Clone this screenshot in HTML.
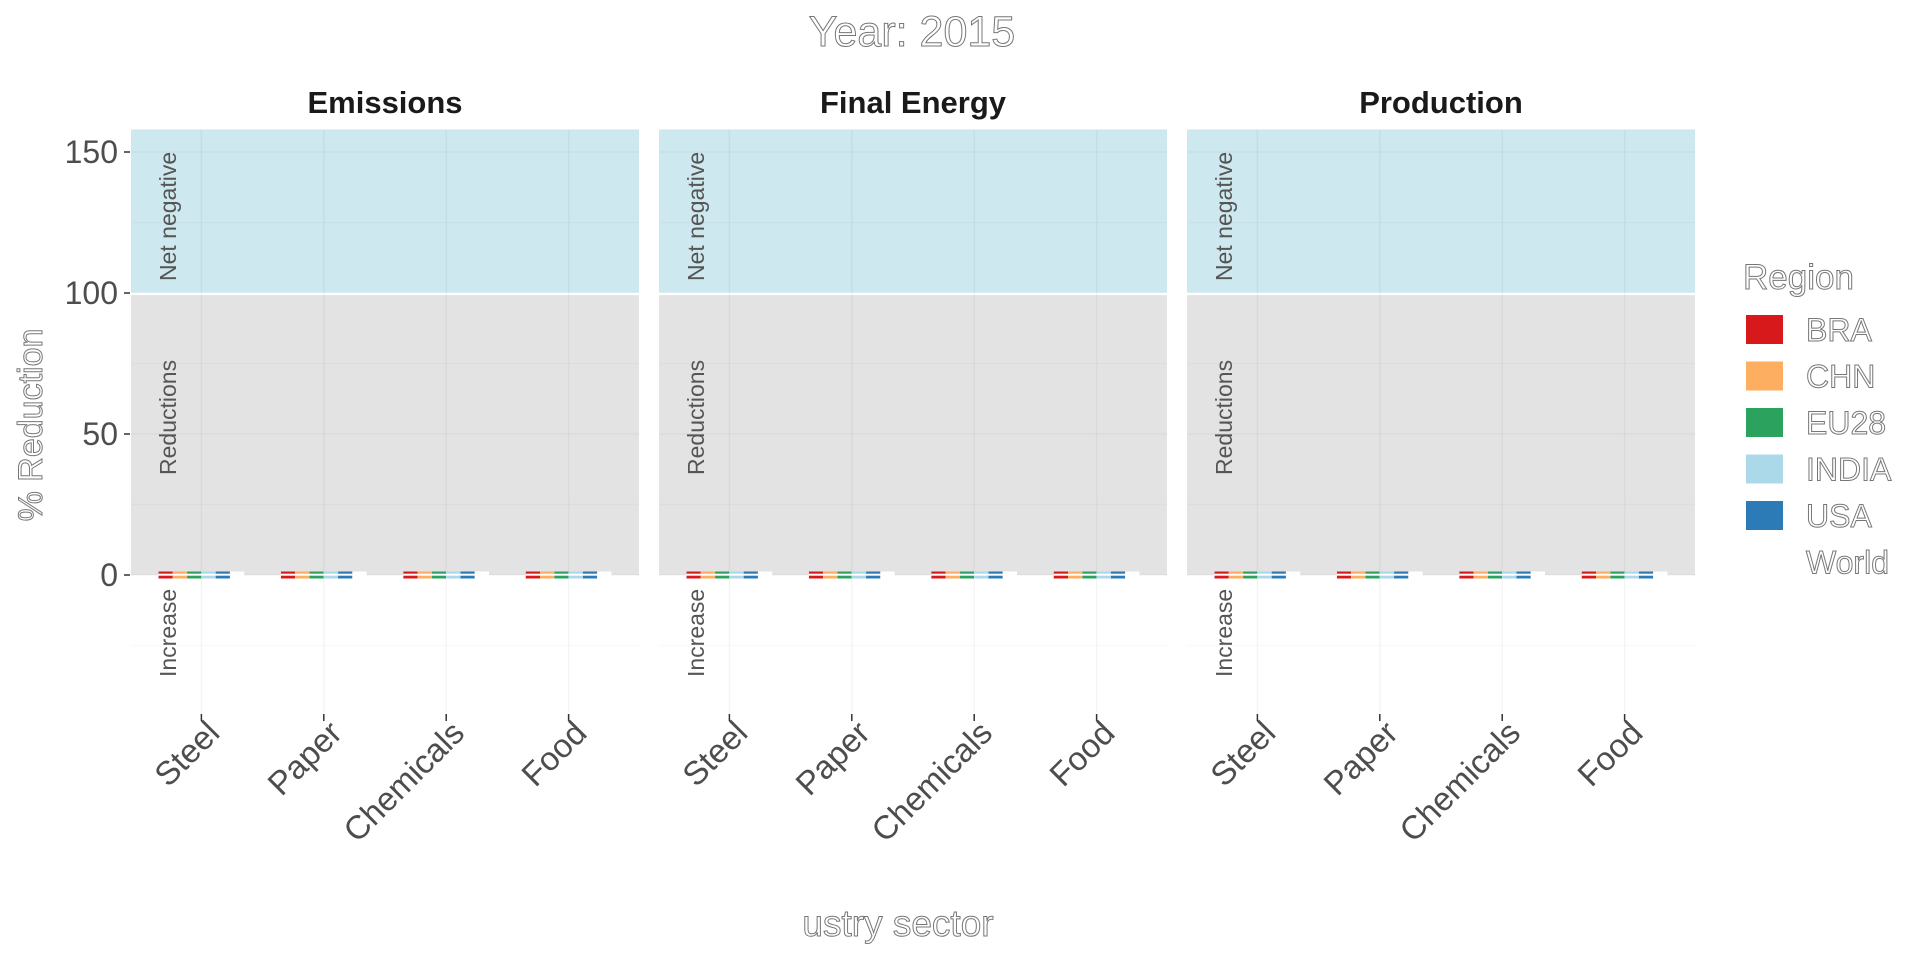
<!DOCTYPE html>
<html><head><meta charset="utf-8"><style>
body{margin:0;background:#fff;}
svg{display:block;font-family:"Liberation Sans",Arial,sans-serif;}
.outl{fill:#fff;stroke:#777;stroke-width:1;}
</style></head><body>
<svg id="chart" width="1920" height="960" viewBox="0 0 1920 960">
<text x="912" y="46" text-anchor="middle" font-size="43" class="outl">Year: 2015</text>
<text transform="translate(42,425) rotate(-90)" text-anchor="middle" font-size="34" class="outl">% Reduction</text>
<text x="898" y="936" text-anchor="middle" font-size="37" class="outl">ustry sector</text>
<g id="panels"></g>
<g id="legend"></g>
</svg>
<script>
const panels = ["Emissions","Final Energy","Production"];
const sectors = ["Steel","Paper","Chemicals","Food"];
const regions = ["BRA","CHN","EU28","INDIA","USA","World"];
const regionColors = ["#d7191c","#fdae61","#2ca25f","#abd9e9","#2c7bb6","#ffffff"];
const emissionsValues = [[0,0,0,0,0,0],[0,0,0,0,0,0],[0,0,0,0,0,0],[0,0,0,0,0,0]];
const finalEnergyValues = [[0,0,0,0,0,0],[0,0,0,0,0,0],[0,0,0,0,0,0],[0,0,0,0,0,0]];
const productionValues = [[0,0,0,0,0,0],[0,0,0,0,0,0],[0,0,0,0,0,0],[0,0,0,0,0,0]];
const yTicks = [0,50,100,150];
const yMinor = [-25,25,75,125];
const bands = [{lo:100,hi:158,c:"#cde8ee",label:"Net negative"},{lo:0,hi:99.4,c:"#e3e3e3",label:"Reductions"},{lo:-50,hi:0,c:null,label:"Increase"}];

const NS="http://www.w3.org/2000/svg";
const panelLefts=[131,659,1187], PW=508, PT=130, PB=713;
const yMax=158;
function y(v){return 575-(v*(575-293)/100);}
function mk(tag,attrs,parent){const e=document.createElementNS(NS,tag);for(const k in attrs)e.setAttribute(k,attrs[k]);parent.appendChild(e);return e;}
const root=document.getElementById('panels');
const allVals=[emissionsValues,finalEnergyValues,productionValues];
panels.forEach((p,pi)=>{
  const L=panelLefts[pi];
  const step=PW/4.15;
  const xc=i=>L+PW/2+(i-1.5)*step;
  const g=mk('g',{},root);
  
  
  const st=mk('text',{x:L+PW/2,y:113,'text-anchor':'middle','font-size':31,'font-weight':'bold',fill:'#1a1a1a'},g);
  st.textContent=p;
  
  
  mk('rect',{x:L,y:PT,width:PW,height:PB-PT,fill:'#fff'},g);
  bands.forEach(b=>{
    if(b.c){const r=mk('rect',{x:L,y:y(Math.min(b.hi,yMax)),width:PW,height:y(b.lo)-y(Math.min(b.hi,yMax)),fill:b.c},g);
      
      }
  });
  yMinor.forEach(v=>mk('line',{x1:L,x2:L+PW,y1:y(v),y2:y(v),stroke:'rgba(0,0,0,0.025)','stroke-width':1.2},g));
  yTicks.forEach(v=>mk('line',{x1:L,x2:L+PW,y1:y(v),y2:y(v),stroke:'rgba(0,0,0,0.035)','stroke-width':1.5},g));
  mk('line',{x1:L,x2:L+PW,y1:y(99.7),y2:y(99.7),stroke:'#fff','stroke-width':2.5},g);
  sectors.forEach((s,i)=>{
    mk('line',{x1:xc(i),x2:xc(i),y1:PT,y2:PB,stroke:'rgba(0,0,0,0.04)','stroke-width':1.5},g);
    mk('line',{x1:xc(i),x2:xc(i),y1:PB+1,y2:PB+8,stroke:'#333','stroke-width':1.5},g);
    const t=mk('text',{'text-anchor':'end','font-size':33,fill:'#4d4d4d',transform:`translate(${xc(i)+20},${PB+22}) rotate(-45)`},g);
    t.textContent=s;
    
    
    const bw=step*0.7/regions.length;
    regions.forEach((r,ri)=>{
      const v=allVals[pi][i][ri];
      const x0=xc(i)-step*0.35+ri*bw;
      const top=Math.min(y(v),y(0))-3.5, h=Math.max(Math.abs(y(v)-y(0)),0)+7;
      const bg=mk('g',{},g);
      
      
      mk('rect',{x:x0,y:top,width:bw,height:h,fill:'#fff'},bg);
      if(r!=="World"){
        mk('rect',{x:x0,y:top,width:bw,height:2.2,fill:regionColors[ri]},bg);
        mk('rect',{x:x0,y:top+h-2.8,width:bw,height:2.8,fill:regionColors[ri]},bg);
        if(h>8) mk('rect',{x:x0,y:top,width:bw,height:h,fill:'none',stroke:regionColors[ri],'stroke-width':2.5},bg);
      }
    });
  });
  bands.forEach(b=>{
    const t=mk('text',{'font-size':23,fill:'#555',transform:`translate(${L+45},${b.label==="Net negative"?281:(b.label==="Reductions"?475:677)}) rotate(-90)`},g);
    t.textContent=b.label;
    
    
  });
  if(pi===0){
    yTicks.forEach(v=>{
      mk('line',{x1:L-7,x2:L-1,y1:y(v),y2:y(v),stroke:'#333','stroke-width':1.5},g);
      const t=mk('text',{x:L-13,y:y(v)+11,'text-anchor':'end','font-size':32,fill:'#4d4d4d'},g);
      t.textContent=v;
      
      
    });
  }
});
const lg=document.getElementById('legend');
const lt=mk('text',{x:1743,y:289,'font-size':35,class:'outl'},lg);
lt.textContent="Region";


regions.forEach((r,ri)=>{
  const yy=315+ri*46.5;
  const e=mk('g',{},lg);
  
  
  if(r!=="World") mk('rect',{x:1746,y:yy,width:37,height:29,fill:regionColors[ri]},e);
  const t=mk('text',{x:1806,y:yy+26,'font-size':32,class:'outl'},e);
  t.textContent=r;
});
</script>
</body></html>
